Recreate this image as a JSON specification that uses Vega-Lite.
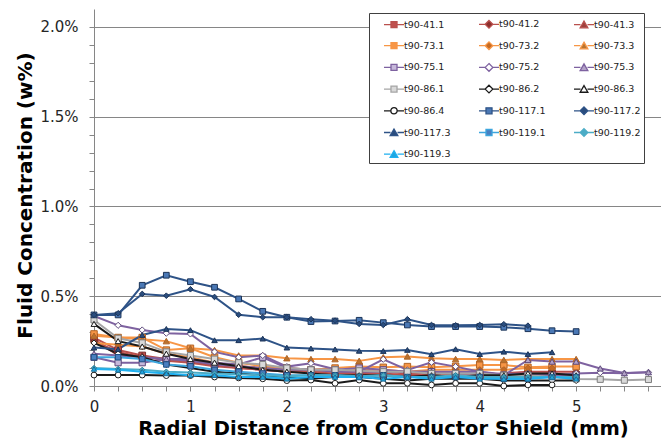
{
"$schema":"https://vega.github.io/schema/vega-lite/v6.json",
"width":567,"height":377,
"autosize":"none",
"padding":{"left":94,"top":9,"right":0,"bottom":57},
"background":"white",
"config":{"view":{"stroke":null},"font":"DejaVu Sans"},
"data":{"values":[
{"s":"t90-41.1","x":0,"y":0.27},{"s":"t90-41.1","x":0.25,"y":0.20},{"s":"t90-41.1","x":0.5,"y":0.17},{"s":"t90-41.1","x":0.75,"y":0.15},{"s":"t90-41.1","x":1,"y":0.13},{"s":"t90-41.1","x":1.25,"y":0.12},{"s":"t90-41.1","x":1.5,"y":0.10},{"s":"t90-41.1","x":1.75,"y":0.09},{"s":"t90-41.1","x":2,"y":0.08},{"s":"t90-41.1","x":2.25,"y":0.08},{"s":"t90-41.1","x":2.5,"y":0.07},{"s":"t90-41.1","x":2.75,"y":0.07},{"s":"t90-41.1","x":3,"y":0.07},{"s":"t90-41.1","x":3.25,"y":0.06},{"s":"t90-41.1","x":3.5,"y":0.06},{"s":"t90-41.1","x":3.75,"y":0.06},{"s":"t90-41.1","x":4,"y":0.06},{"s":"t90-41.1","x":4.25,"y":0.06},{"s":"t90-41.1","x":4.5,"y":0.07},{"s":"t90-41.1","x":4.75,"y":0.07},{"s":"t90-41.1","x":5,"y":0.06},
{"s":"t90-41.2","x":0,"y":0.25},{"s":"t90-41.2","x":0.25,"y":0.19},{"s":"t90-41.2","x":0.5,"y":0.16},{"s":"t90-41.2","x":0.75,"y":0.15},{"s":"t90-41.2","x":1,"y":0.14},{"s":"t90-41.2","x":1.25,"y":0.12},{"s":"t90-41.2","x":1.5,"y":0.11},{"s":"t90-41.2","x":1.75,"y":0.10},{"s":"t90-41.2","x":2,"y":0.09},{"s":"t90-41.2","x":2.25,"y":0.08},{"s":"t90-41.2","x":2.5,"y":0.08},{"s":"t90-41.2","x":2.75,"y":0.07},{"s":"t90-41.2","x":3,"y":0.08},{"s":"t90-41.2","x":3.25,"y":0.07},{"s":"t90-41.2","x":3.5,"y":0.07},{"s":"t90-41.2","x":3.75,"y":0.07},{"s":"t90-41.2","x":4,"y":0.06},{"s":"t90-41.2","x":4.25,"y":0.07},{"s":"t90-41.2","x":4.5,"y":0.08},{"s":"t90-41.2","x":4.75,"y":0.08},{"s":"t90-41.2","x":5,"y":0.08},
{"s":"t90-41.3","x":0,"y":0.26},{"s":"t90-41.3","x":0.25,"y":0.17},{"s":"t90-41.3","x":0.5,"y":0.17},{"s":"t90-41.3","x":0.75,"y":0.14},{"s":"t90-41.3","x":1,"y":0.13},{"s":"t90-41.3","x":1.25,"y":0.11},{"s":"t90-41.3","x":1.5,"y":0.10},{"s":"t90-41.3","x":1.75,"y":0.09},{"s":"t90-41.3","x":2,"y":0.08},{"s":"t90-41.3","x":2.25,"y":0.08},{"s":"t90-41.3","x":2.5,"y":0.07},{"s":"t90-41.3","x":2.75,"y":0.07},{"s":"t90-41.3","x":3,"y":0.06},{"s":"t90-41.3","x":3.25,"y":0.06},{"s":"t90-41.3","x":3.5,"y":0.07},{"s":"t90-41.3","x":3.75,"y":0.06},{"s":"t90-41.3","x":4,"y":0.06},{"s":"t90-41.3","x":4.25,"y":0.06},{"s":"t90-41.3","x":4.5,"y":0.06},{"s":"t90-41.3","x":4.75,"y":0.07},
{"s":"t90-73.1","x":0,"y":0.29},{"s":"t90-73.1","x":0.25,"y":0.27},{"s":"t90-73.1","x":0.5,"y":0.27},{"s":"t90-73.1","x":0.75,"y":0.20},{"s":"t90-73.1","x":1,"y":0.21},{"s":"t90-73.1","x":1.25,"y":0.16},{"s":"t90-73.1","x":1.5,"y":0.13},{"s":"t90-73.1","x":1.75,"y":0.11},{"s":"t90-73.1","x":2,"y":0.10},{"s":"t90-73.1","x":2.25,"y":0.09},{"s":"t90-73.1","x":2.5,"y":0.10},{"s":"t90-73.1","x":2.75,"y":0.108},{"s":"t90-73.1","x":3,"y":0.104},{"s":"t90-73.1","x":3.25,"y":0.108},{"s":"t90-73.1","x":3.5,"y":0.104},{"s":"t90-73.1","x":3.75,"y":0.11},{"s":"t90-73.1","x":4,"y":0.117},{"s":"t90-73.1","x":4.25,"y":0.117},{"s":"t90-73.1","x":4.5,"y":0.104},{"s":"t90-73.1","x":4.75,"y":0.108},{"s":"t90-73.1","x":5,"y":0.108},
{"s":"t90-73.2","x":0,"y":0.24},{"s":"t90-73.2","x":0.25,"y":0.23},{"s":"t90-73.2","x":0.5,"y":0.22},{"s":"t90-73.2","x":0.75,"y":0.18},{"s":"t90-73.2","x":1,"y":0.16},{"s":"t90-73.2","x":1.25,"y":0.13},{"s":"t90-73.2","x":1.5,"y":0.11},{"s":"t90-73.2","x":1.75,"y":0.10},{"s":"t90-73.2","x":2,"y":0.09},{"s":"t90-73.2","x":2.25,"y":0.09},{"s":"t90-73.2","x":2.5,"y":0.08},{"s":"t90-73.2","x":2.75,"y":0.09},{"s":"t90-73.2","x":3,"y":0.09},{"s":"t90-73.2","x":3.25,"y":0.08},{"s":"t90-73.2","x":3.5,"y":0.09},{"s":"t90-73.2","x":3.75,"y":0.09},{"s":"t90-73.2","x":4,"y":0.09},{"s":"t90-73.2","x":4.25,"y":0.09},{"s":"t90-73.2","x":4.5,"y":0.10},{"s":"t90-73.2","x":4.75,"y":0.10},
{"s":"t90-73.3","x":0,"y":0.28},{"s":"t90-73.3","x":0.25,"y":0.27},{"s":"t90-73.3","x":0.5,"y":0.26},{"s":"t90-73.3","x":0.75,"y":0.25},{"s":"t90-73.3","x":1,"y":0.21},{"s":"t90-73.3","x":1.25,"y":0.20},{"s":"t90-73.3","x":1.5,"y":0.17},{"s":"t90-73.3","x":1.75,"y":0.17},{"s":"t90-73.3","x":2,"y":0.155},{"s":"t90-73.3","x":2.25,"y":0.15},{"s":"t90-73.3","x":2.5,"y":0.15},{"s":"t90-73.3","x":2.75,"y":0.14},{"s":"t90-73.3","x":3,"y":0.16},{"s":"t90-73.3","x":3.25,"y":0.165},{"s":"t90-73.3","x":3.5,"y":0.155},{"s":"t90-73.3","x":3.75,"y":0.15},{"s":"t90-73.3","x":4,"y":0.15},{"s":"t90-73.3","x":4.25,"y":0.145},{"s":"t90-73.3","x":4.5,"y":0.15},{"s":"t90-73.3","x":4.75,"y":0.15},{"s":"t90-73.3","x":5,"y":0.15},
{"s":"t90-75.1","x":0,"y":0.16},{"s":"t90-75.1","x":0.25,"y":0.13},{"s":"t90-75.1","x":0.5,"y":0.13},{"s":"t90-75.1","x":0.75,"y":0.15},{"s":"t90-75.1","x":1,"y":0.15},{"s":"t90-75.1","x":1.25,"y":0.13},{"s":"t90-75.1","x":1.5,"y":0.12},{"s":"t90-75.1","x":1.75,"y":0.16},{"s":"t90-75.1","x":2,"y":0.10},{"s":"t90-75.1","x":2.25,"y":0.09},{"s":"t90-75.1","x":2.5,"y":0.09},{"s":"t90-75.1","x":2.75,"y":0.10},{"s":"t90-75.1","x":3,"y":0.09},{"s":"t90-75.1","x":3.25,"y":0.08},{"s":"t90-75.1","x":3.5,"y":0.08},{"s":"t90-75.1","x":3.75,"y":0.07},{"s":"t90-75.1","x":4,"y":0.07},{"s":"t90-75.1","x":4.25,"y":0.06},{"s":"t90-75.1","x":4.5,"y":0.06},{"s":"t90-75.1","x":4.75,"y":0.06},{"s":"t90-75.1","x":5,"y":0.06},
{"s":"t90-75.2","x":0,"y":0.39},{"s":"t90-75.2","x":0.25,"y":0.338},{"s":"t90-75.2","x":0.5,"y":0.312},{"s":"t90-75.2","x":0.75,"y":0.294},{"s":"t90-75.2","x":1,"y":0.29},{"s":"t90-75.2","x":1.25,"y":0.19},{"s":"t90-75.2","x":1.5,"y":0.16},{"s":"t90-75.2","x":1.75,"y":0.17},{"s":"t90-75.2","x":2,"y":0.108},{"s":"t90-75.2","x":2.25,"y":0.126},{"s":"t90-75.2","x":2.5,"y":0.093},{"s":"t90-75.2","x":2.75,"y":0.08},{"s":"t90-75.2","x":3,"y":0.149},{"s":"t90-75.2","x":3.25,"y":0.089},{"s":"t90-75.2","x":3.5,"y":0.132},{"s":"t90-75.2","x":3.75,"y":0.108},{"s":"t90-75.2","x":4,"y":0.08},{"s":"t90-75.2","x":4.25,"y":0.066},{"s":"t90-75.2","x":4.5,"y":0.07},{"s":"t90-75.2","x":4.75,"y":0.06},{"s":"t90-75.2","x":5,"y":0.07},{"s":"t90-75.2","x":5.25,"y":0.074},{"s":"t90-75.2","x":5.5,"y":0.071},{"s":"t90-75.2","x":5.75,"y":0.076},
{"s":"t90-75.3","x":0,"y":0.18},{"s":"t90-75.3","x":0.25,"y":0.17},{"s":"t90-75.3","x":0.5,"y":0.16},{"s":"t90-75.3","x":0.75,"y":0.15},{"s":"t90-75.3","x":1,"y":0.14},{"s":"t90-75.3","x":1.25,"y":0.12},{"s":"t90-75.3","x":1.5,"y":0.11},{"s":"t90-75.3","x":1.75,"y":0.10},{"s":"t90-75.3","x":2,"y":0.09},{"s":"t90-75.3","x":2.25,"y":0.09},{"s":"t90-75.3","x":2.5,"y":0.08},{"s":"t90-75.3","x":2.75,"y":0.08},{"s":"t90-75.3","x":3,"y":0.08},{"s":"t90-75.3","x":3.25,"y":0.08},{"s":"t90-75.3","x":3.5,"y":0.08},{"s":"t90-75.3","x":3.75,"y":0.08},{"s":"t90-75.3","x":4,"y":0.08},{"s":"t90-75.3","x":4.25,"y":0.06},{"s":"t90-75.3","x":4.5,"y":0.145},{"s":"t90-75.3","x":4.75,"y":0.136},{"s":"t90-75.3","x":5,"y":0.136},{"s":"t90-75.3","x":5.25,"y":0.098},{"s":"t90-75.3","x":5.5,"y":0.072},{"s":"t90-75.3","x":5.75,"y":0.077},
{"s":"t90-86.1","x":0,"y":0.368},{"s":"t90-86.1","x":0.25,"y":0.266},{"s":"t90-86.1","x":0.5,"y":0.24},{"s":"t90-86.1","x":0.75,"y":0.19},{"s":"t90-86.1","x":1,"y":0.17},{"s":"t90-86.1","x":1.25,"y":0.15},{"s":"t90-86.1","x":1.5,"y":0.13},{"s":"t90-86.1","x":1.75,"y":0.12},{"s":"t90-86.1","x":2,"y":0.10},{"s":"t90-86.1","x":2.25,"y":0.09},{"s":"t90-86.1","x":2.5,"y":0.09},{"s":"t90-86.1","x":2.75,"y":0.085},{"s":"t90-86.1","x":3,"y":0.08},{"s":"t90-86.1","x":3.25,"y":0.08},{"s":"t90-86.1","x":3.5,"y":0.07},{"s":"t90-86.1","x":3.75,"y":0.07},{"s":"t90-86.1","x":4,"y":0.07},{"s":"t90-86.1","x":4.25,"y":0.06},{"s":"t90-86.1","x":4.5,"y":0.06},{"s":"t90-86.1","x":4.75,"y":0.05},{"s":"t90-86.1","x":5,"y":0.039},{"s":"t90-86.1","x":5.25,"y":0.037},{"s":"t90-86.1","x":5.5,"y":0.032},{"s":"t90-86.1","x":5.75,"y":0.036},
{"s":"t90-86.2","x":0,"y":0.24},{"s":"t90-86.2","x":0.25,"y":0.18},{"s":"t90-86.2","x":0.5,"y":0.16},{"s":"t90-86.2","x":0.75,"y":0.12},{"s":"t90-86.2","x":1,"y":0.10},{"s":"t90-86.2","x":1.25,"y":0.08},{"s":"t90-86.2","x":1.5,"y":0.07},{"s":"t90-86.2","x":1.75,"y":0.06},{"s":"t90-86.2","x":2,"y":0.05},{"s":"t90-86.2","x":2.25,"y":0.04},{"s":"t90-86.2","x":2.5,"y":0.05},{"s":"t90-86.2","x":2.75,"y":0.05},{"s":"t90-86.2","x":3,"y":0.04},{"s":"t90-86.2","x":3.25,"y":0.03},{"s":"t90-86.2","x":3.5,"y":0.04},{"s":"t90-86.2","x":3.75,"y":0.04},{"s":"t90-86.2","x":4,"y":0.04},{"s":"t90-86.2","x":4.25,"y":0.03},{"s":"t90-86.2","x":4.5,"y":0.03},{"s":"t90-86.2","x":4.75,"y":0.03},{"s":"t90-86.2","x":5,"y":0.03},
{"s":"t90-86.3","x":0,"y":0.346},{"s":"t90-86.3","x":0.25,"y":0.25},{"s":"t90-86.3","x":0.5,"y":0.22},{"s":"t90-86.3","x":0.75,"y":0.18},{"s":"t90-86.3","x":1,"y":0.15},{"s":"t90-86.3","x":1.25,"y":0.13},{"s":"t90-86.3","x":1.5,"y":0.11},{"s":"t90-86.3","x":1.75,"y":0.09},{"s":"t90-86.3","x":2,"y":0.08},{"s":"t90-86.3","x":2.25,"y":0.07},{"s":"t90-86.3","x":2.5,"y":0.06},{"s":"t90-86.3","x":2.75,"y":0.06},{"s":"t90-86.3","x":3,"y":0.06},{"s":"t90-86.3","x":3.25,"y":0.05},{"s":"t90-86.3","x":3.5,"y":0.06},{"s":"t90-86.3","x":3.75,"y":0.05},{"s":"t90-86.3","x":4,"y":0.06},{"s":"t90-86.3","x":4.25,"y":0.06},{"s":"t90-86.3","x":4.5,"y":0.07},{"s":"t90-86.3","x":4.75,"y":0.07},{"s":"t90-86.3","x":5,"y":0.06},
{"s":"t90-86.4","x":0,"y":0.061},{"s":"t90-86.4","x":0.25,"y":0.061},{"s":"t90-86.4","x":0.5,"y":0.061},{"s":"t90-86.4","x":0.75,"y":0.058},{"s":"t90-86.4","x":1,"y":0.058},{"s":"t90-86.4","x":1.25,"y":0.05},{"s":"t90-86.4","x":1.5,"y":0.045},{"s":"t90-86.4","x":1.75,"y":0.04},{"s":"t90-86.4","x":2,"y":0.03},{"s":"t90-86.4","x":2.25,"y":0.033},{"s":"t90-86.4","x":2.5,"y":0.015},{"s":"t90-86.4","x":2.75,"y":0.033},{"s":"t90-86.4","x":3,"y":0.015},{"s":"t90-86.4","x":3.25,"y":0.015},{"s":"t90-86.4","x":3.5,"y":0.006},{"s":"t90-86.4","x":3.75,"y":0.015},{"s":"t90-86.4","x":4,"y":0.015},{"s":"t90-86.4","x":4.25,"y":0.0},{"s":"t90-86.4","x":4.5,"y":0.006},{"s":"t90-86.4","x":4.75,"y":0.006},
{"s":"t90-117.1","x":0,"y":0.396},{"s":"t90-117.1","x":0.25,"y":0.396},{"s":"t90-117.1","x":0.5,"y":0.561},{"s":"t90-117.1","x":0.75,"y":0.617},{"s":"t90-117.1","x":1,"y":0.581},{"s":"t90-117.1","x":1.25,"y":0.55},{"s":"t90-117.1","x":1.5,"y":0.485},{"s":"t90-117.1","x":1.75,"y":0.416},{"s":"t90-117.1","x":2,"y":0.383},{"s":"t90-117.1","x":2.25,"y":0.359},{"s":"t90-117.1","x":2.5,"y":0.362},{"s":"t90-117.1","x":2.75,"y":0.366},{"s":"t90-117.1","x":3,"y":0.353},{"s":"t90-117.1","x":3.25,"y":0.34},{"s":"t90-117.1","x":3.5,"y":0.331},{"s":"t90-117.1","x":3.75,"y":0.331},{"s":"t90-117.1","x":4,"y":0.331},{"s":"t90-117.1","x":4.25,"y":0.327},{"s":"t90-117.1","x":4.5,"y":0.319},{"s":"t90-117.1","x":4.75,"y":0.308},{"s":"t90-117.1","x":5,"y":0.303},
{"s":"t90-117.2","x":0,"y":0.396},{"s":"t90-117.2","x":0.25,"y":0.405},{"s":"t90-117.2","x":0.5,"y":0.513},{"s":"t90-117.2","x":0.75,"y":0.503},{"s":"t90-117.2","x":1,"y":0.539},{"s":"t90-117.2","x":1.25,"y":0.496},{"s":"t90-117.2","x":1.5,"y":0.397},{"s":"t90-117.2","x":1.75,"y":0.383},{"s":"t90-117.2","x":2,"y":0.383},{"s":"t90-117.2","x":2.25,"y":0.372},{"s":"t90-117.2","x":2.5,"y":0.364},{"s":"t90-117.2","x":2.75,"y":0.346},{"s":"t90-117.2","x":3,"y":0.34},{"s":"t90-117.2","x":3.25,"y":0.372},{"s":"t90-117.2","x":3.5,"y":0.34},{"s":"t90-117.2","x":3.75,"y":0.338},{"s":"t90-117.2","x":4,"y":0.34},{"s":"t90-117.2","x":4.25,"y":0.344},{"s":"t90-117.2","x":4.5,"y":0.336},
{"s":"t90-117.3","x":0,"y":0.214},{"s":"t90-117.3","x":0.25,"y":0.205},{"s":"t90-117.3","x":0.5,"y":0.284},{"s":"t90-117.3","x":0.75,"y":0.318},{"s":"t90-117.3","x":1,"y":0.311},{"s":"t90-117.3","x":1.25,"y":0.255},{"s":"t90-117.3","x":1.5,"y":0.255},{"s":"t90-117.3","x":1.75,"y":0.264},{"s":"t90-117.3","x":2,"y":0.214},{"s":"t90-117.3","x":2.25,"y":0.209},{"s":"t90-117.3","x":2.5,"y":0.204},{"s":"t90-117.3","x":2.75,"y":0.196},{"s":"t90-117.3","x":3,"y":0.195},{"s":"t90-117.3","x":3.25,"y":0.201},{"s":"t90-117.3","x":3.5,"y":0.177},{"s":"t90-117.3","x":3.75,"y":0.205},{"s":"t90-117.3","x":4,"y":0.178},{"s":"t90-117.3","x":4.25,"y":0.191},{"s":"t90-117.3","x":4.5,"y":0.178},{"s":"t90-117.3","x":4.75,"y":0.188},
{"s":"t90-119.1","x":0,"y":0.16},{"s":"t90-119.1","x":0.25,"y":0.16},{"s":"t90-119.1","x":0.5,"y":0.15},{"s":"t90-119.1","x":0.75,"y":0.12},{"s":"t90-119.1","x":1,"y":0.11},{"s":"t90-119.1","x":1.25,"y":0.09},{"s":"t90-119.1","x":1.5,"y":0.08},{"s":"t90-119.1","x":1.75,"y":0.07},{"s":"t90-119.1","x":2,"y":0.06},{"s":"t90-119.1","x":2.25,"y":0.06},{"s":"t90-119.1","x":2.5,"y":0.06},{"s":"t90-119.1","x":2.75,"y":0.05},{"s":"t90-119.1","x":3,"y":0.06},{"s":"t90-119.1","x":3.25,"y":0.05},{"s":"t90-119.1","x":3.5,"y":0.05},{"s":"t90-119.1","x":3.75,"y":0.05},{"s":"t90-119.1","x":4,"y":0.05},{"s":"t90-119.1","x":4.25,"y":0.04},{"s":"t90-119.1","x":4.5,"y":0.04},{"s":"t90-119.1","x":4.75,"y":0.05},{"s":"t90-119.1","x":5,"y":0.05},
{"s":"t90-119.2","x":0,"y":0.10},{"s":"t90-119.2","x":0.25,"y":0.095},{"s":"t90-119.2","x":0.5,"y":0.09},{"s":"t90-119.2","x":0.75,"y":0.08},{"s":"t90-119.2","x":1,"y":0.075},{"s":"t90-119.2","x":1.25,"y":0.07},{"s":"t90-119.2","x":1.5,"y":0.065},{"s":"t90-119.2","x":1.75,"y":0.06},{"s":"t90-119.2","x":2,"y":0.055},{"s":"t90-119.2","x":2.25,"y":0.06},{"s":"t90-119.2","x":2.5,"y":0.06},{"s":"t90-119.2","x":2.75,"y":0.055},{"s":"t90-119.2","x":3,"y":0.06},{"s":"t90-119.2","x":3.25,"y":0.05},{"s":"t90-119.2","x":3.5,"y":0.05},{"s":"t90-119.2","x":3.75,"y":0.06},{"s":"t90-119.2","x":4,"y":0.05},{"s":"t90-119.2","x":4.25,"y":0.05},{"s":"t90-119.2","x":4.5,"y":0.05},{"s":"t90-119.2","x":4.75,"y":0.05},{"s":"t90-119.2","x":5,"y":0.05},
{"s":"t90-119.3","x":0,"y":0.095},{"s":"t90-119.3","x":0.25,"y":0.09},{"s":"t90-119.3","x":0.5,"y":0.08},{"s":"t90-119.3","x":0.75,"y":0.07},{"s":"t90-119.3","x":1,"y":0.06},{"s":"t90-119.3","x":1.25,"y":0.06},{"s":"t90-119.3","x":1.5,"y":0.05},{"s":"t90-119.3","x":1.75,"y":0.05},{"s":"t90-119.3","x":2,"y":0.04},{"s":"t90-119.3","x":2.25,"y":0.05},{"s":"t90-119.3","x":2.5,"y":0.05},{"s":"t90-119.3","x":2.75,"y":0.05},{"s":"t90-119.3","x":3,"y":0.04},{"s":"t90-119.3","x":3.25,"y":0.05},{"s":"t90-119.3","x":3.5,"y":0.04},{"s":"t90-119.3","x":3.75,"y":0.05},{"s":"t90-119.3","x":4,"y":0.04},{"s":"t90-119.3","x":4.25,"y":0.04},{"s":"t90-119.3","x":4.5,"y":0.04},{"s":"t90-119.3","x":4.75,"y":0.05},{"s":"t90-119.3","x":5,"y":0.04}
]},
"encoding":{
"x":{"field":"x","type":"quantitative","scale":{"domain":[0,5.88],"nice":false,"zero":false},
"axis":{"values":[0,0.25,0.5,0.75,1,1.25,1.5,1.75,2,2.25,2.5,2.75,3,3.25,3.5,3.75,4,4.25,4.5,4.75,5,5.25,5.5,5.75],
"labelExpr":"datum.value % 1 === 0 ? format(datum.value,'d') : ''","labelOverlap":false,"labelFlush":false,
"grid":false,"domainColor":"#868686","tickColor":"#868686","tickSize":5,"labelPadding":8,
"labelFont":"DejaVu Sans","labelFontSize":15,"labelColor":"#262626",
"title":"Radial Distance from Conductor Shield (mm)","titleFont":"DejaVu Sans","titleFontSize":19.5,"titleFontWeight":"bold","titleColor":"#000000",
"titleX":289,"titleY":48,"titleAlign":"center","titleBaseline":"alphabetic"}},
"y":{"field":"y","type":"quantitative","scale":{"domain":[0,2.1],"nice":false},
"axis":{"values":[0,0.1,0.2,0.3,0.4,0.5,0.6,0.7,0.8,0.9,1,1.1,1.2,1.3,1.4,1.5,1.6,1.7,1.8,1.9,2],
"labelExpr":"abs(datum.value*2 - round(datum.value*2)) < 0.001 ? format(datum.value,'.1f') + '%' : ''","labelOverlap":false,"labelFlush":false,
"grid":true,"gridColor":"#868686","gridWidth":1,
"gridOpacity":{"condition":{"test":"abs(datum.value*2 - round(datum.value*2)) < 0.001","value":1},"value":0},
"domainColor":"#868686","tickColor":"#868686","tickSize":5,"labelPadding":11,
"labelFont":"DejaVu Sans","labelFontSize":15,"labelColor":"#262626",
"title":"Fluid Concentration (w%)","titleFont":"DejaVu Sans","titleFontSize":20,"titleFontWeight":"bold","titleColor":"#000000",
"titleX":-63,"titleY":186,"titleAngle":270,"titleAlign":"center","titleBaseline":"alphabetic"}}
},
"layer":[
{"mark":{"type":"line","strokeWidth":2},
 "encoding":{"color":{"field":"s","type":"nominal","legend":null,
 "scale":{"domain":["t90-41.1","t90-41.2","t90-41.3","t90-73.1","t90-73.2","t90-73.3","t90-75.1","t90-75.2","t90-75.3","t90-86.1","t90-86.2","t90-86.3","t90-86.4","t90-117.1","t90-117.2","t90-117.3","t90-119.1","t90-119.2","t90-119.3"],
 "range":["#B9504D","#B9504D","#B9504D","#F79646","#F79646","#F79646","#7E62A0","#7E62A0","#7E62A0","#A5A5A5","#1A1A1A","#1A1A1A","#1A1A1A","#2E5387","#2E5387","#2E5387","#3DA6DE","#4BACC6","#1FB0F0"]}}}},
{"mark":{"type":"point","filled":true,"strokeWidth":1,"opacity":1},
 "encoding":{
 "fill":{"field":"s","type":"nominal","legend":null,
 "scale":{"domain":["t90-41.1","t90-41.2","t90-41.3","t90-73.1","t90-73.2","t90-73.3","t90-75.1","t90-75.2","t90-75.3","t90-86.1","t90-86.2","t90-86.3","t90-86.4","t90-117.1","t90-117.2","t90-117.3","t90-119.1","t90-119.2","t90-119.3"],
 "range":["#C0504D","#8B2E2B","#A0403C","#F79646","#C46A24","#B8732F","#C6B8DA","#FFFFFF","#B3A2C7","#D9D9D9","#FFFFFF","#FFFFFF","#FFFFFF","#4A78B5","#2A4D7E","#2A4D7E","#4A7FC0","#4BACC6","#1FA6E0"]}},
 "stroke":{"field":"s","type":"nominal","legend":null,
 "scale":{"domain":["t90-41.1","t90-41.2","t90-41.3","t90-73.1","t90-73.2","t90-73.3","t90-75.1","t90-75.2","t90-75.3","t90-86.1","t90-86.2","t90-86.3","t90-86.4","t90-117.1","t90-117.2","t90-117.3","t90-119.1","t90-119.2","t90-119.3"],
 "range":["#7A2E2C","#7A2E2C","#7A2E2C","#B26527","#B26527","#B26527","#5E4A7C","#5E4A7C","#5E4A7C","#7F7F7F","#1A1A1A","#1A1A1A","#1A1A1A","#1C3458","#1C3458","#1C3458","#1F4E80","#2E7F96","#1B6E99"]}},
 "shape":{"field":"s","type":"nominal","legend":null,
 "scale":{"domain":["t90-41.1","t90-41.2","t90-41.3","t90-73.1","t90-73.2","t90-73.3","t90-75.1","t90-75.2","t90-75.3","t90-86.1","t90-86.2","t90-86.3","t90-86.4","t90-117.1","t90-117.2","t90-117.3","t90-119.1","t90-119.2","t90-119.3"],
 "range":["square","diamond","triangle-up","square","diamond","triangle-up","square","diamond","triangle-up","square","diamond","triangle-up","circle","square","diamond","triangle-up","square","diamond","triangle-up"]}},
 "size":{"field":"s","type":"nominal","legend":null,
 "scale":{"domain":["t90-41.1","t90-41.2","t90-41.3","t90-73.1","t90-73.2","t90-73.3","t90-75.1","t90-75.2","t90-75.3","t90-86.1","t90-86.2","t90-86.3","t90-86.4","t90-117.1","t90-117.2","t90-117.3","t90-119.1","t90-119.2","t90-119.3"],
 "range":[45,28,40,45,28,40,45,28,40,45,28,40,24,45,28,40,45,28,40]}}
 }},
{"transform":[{"filter":"false"}],
 "mark":{"type":"point","filled":true,"strokeWidth":1.3},
 "encoding":{
 "fill":{"field":"s","type":"nominal",
 "scale":{"domain":["t90-41.1","t90-41.2","t90-41.3","t90-73.1","t90-73.2","t90-73.3","t90-75.1","t90-75.2","t90-75.3","t90-86.1","t90-86.2","t90-86.3","t90-86.4","t90-117.1","t90-117.2","t90-117.3","t90-119.1","t90-119.2","t90-119.3"],
 "range":["#C0504D","#8B2E2B","#A0403C","#F79646","#C46A24","#B8732F","#C6B8DA","#FFFFFF","#B3A2C7","#D9D9D9","#FFFFFF","#FFFFFF","#FFFFFF","#4A78B5","#2A4D7E","#2A4D7E","#4A7FC0","#4BACC6","#1FA6E0"]},
 "legend":{"orient":"none","legendX":275,"legendY":4,"direction":"horizontal","columns":3,"gridAlign":"all","padding":3,"rowPadding":6.7,"columnPadding":16,"symbolSize":196,"symbolStrokeWidth":1.3,"symbolOpacity":1,"labelOffset":16,"labelFont":"DejaVu Sans","labelFontSize":9.5,"labelColor":"#222222","strokeColor":"#404040","fillColor":"#FFFFFF","title":null}},
 "stroke":{"field":"s","type":"nominal",
 "scale":{"domain":["t90-41.1","t90-41.2","t90-41.3","t90-73.1","t90-73.2","t90-73.3","t90-75.1","t90-75.2","t90-75.3","t90-86.1","t90-86.2","t90-86.3","t90-86.4","t90-117.1","t90-117.2","t90-117.3","t90-119.1","t90-119.2","t90-119.3"],
 "range":["#B9504D","#B9504D","#B9504D","#F79646","#F79646","#F79646","#7E62A0","#7E62A0","#7E62A0","#A5A5A5","#1A1A1A","#1A1A1A","#1A1A1A","#2E5387","#2E5387","#2E5387","#3DA6DE","#4BACC6","#1FB0F0"]},
 "legend":{"orient":"none","legendX":275,"legendY":4,"direction":"horizontal","columns":3,"gridAlign":"all","padding":3,"rowPadding":6.7,"columnPadding":16,"symbolSize":196,"symbolStrokeWidth":1.3,"symbolOpacity":1,"labelOffset":16,"labelFont":"DejaVu Sans","labelFontSize":9.5,"labelColor":"#222222","strokeColor":"#404040","fillColor":"#FFFFFF","title":null}},
 "shape":{"field":"s","type":"nominal",
 "scale":{"domain":["t90-41.1","t90-41.2","t90-41.3","t90-73.1","t90-73.2","t90-73.3","t90-75.1","t90-75.2","t90-75.3","t90-86.1","t90-86.2","t90-86.3","t90-86.4","t90-117.1","t90-117.2","t90-117.3","t90-119.1","t90-119.2","t90-119.3"],
 "range":[
 "M0.57,0H1.57M2.43,0H3.43M1.57,-0.43H2.43V0.43H1.57Z",
 "M0.57,0H1.45M2.55,0H3.43M2,-0.55L2.55,0L2,0.55L1.45,0Z",
 "M0.57,0H1.5M2.5,0H3.43M2,-0.5L2.55,0.45H1.45Z",
 "M0.57,0H1.57M2.43,0H3.43M1.57,-0.43H2.43V0.43H1.57Z",
 "M0.57,0H1.45M2.55,0H3.43M2,-0.55L2.55,0L2,0.55L1.45,0Z",
 "M0.57,0H1.5M2.5,0H3.43M2,-0.5L2.55,0.45H1.45Z",
 "M0.57,0H1.57M2.43,0H3.43M1.57,-0.43H2.43V0.43H1.57Z",
 "M0.57,0H1.45M2.55,0H3.43M2,-0.55L2.55,0L2,0.55L1.45,0Z",
 "M0.57,0H1.5M2.5,0H3.43M2,-0.5L2.55,0.45H1.45Z",
 "M0.57,0H1.57M2.43,0H3.43M1.57,-0.43H2.43V0.43H1.57Z",
 "M0.57,0H1.45M2.55,0H3.43M2,-0.55L2.55,0L2,0.55L1.45,0Z",
 "M0.57,0H1.5M2.5,0H3.43M2,-0.5L2.55,0.45H1.45Z",
 "M0.57,0H1.55M2.45,0H3.43M2.45,0A0.45,0.45 0 1,1 1.55,0A0.45,0.45 0 1,1 2.45,0Z",
 "M0.57,0H1.57M2.43,0H3.43M1.57,-0.43H2.43V0.43H1.57Z",
 "M0.57,0H1.45M2.55,0H3.43M2,-0.55L2.55,0L2,0.55L1.45,0Z",
 "M0.57,0H1.5M2.5,0H3.43M2,-0.5L2.55,0.45H1.45Z",
 "M0.57,0H1.57M2.43,0H3.43M1.57,-0.43H2.43V0.43H1.57Z",
 "M0.57,0H1.45M2.55,0H3.43M2,-0.55L2.55,0L2,0.55L1.45,0Z",
 "M0.57,0H1.5M2.5,0H3.43M2,-0.5L2.55,0.45H1.45Z"]},
 "legend":{"orient":"none","legendX":275,"legendY":4,"direction":"horizontal","columns":3,"gridAlign":"all","padding":3,"rowPadding":6.7,"columnPadding":16,"symbolSize":196,"symbolStrokeWidth":1.3,"symbolOpacity":1,"labelOffset":16,"labelFont":"DejaVu Sans","labelFontSize":9.5,"labelColor":"#222222","strokeColor":"#404040","fillColor":"#FFFFFF","title":null}}
 }}
],
"resolve":{"scale":{"color":"independent","fill":"independent","stroke":"independent","shape":"independent","size":"independent"},
 "legend":{"fill":"independent","stroke":"independent","shape":"independent"}}
}
